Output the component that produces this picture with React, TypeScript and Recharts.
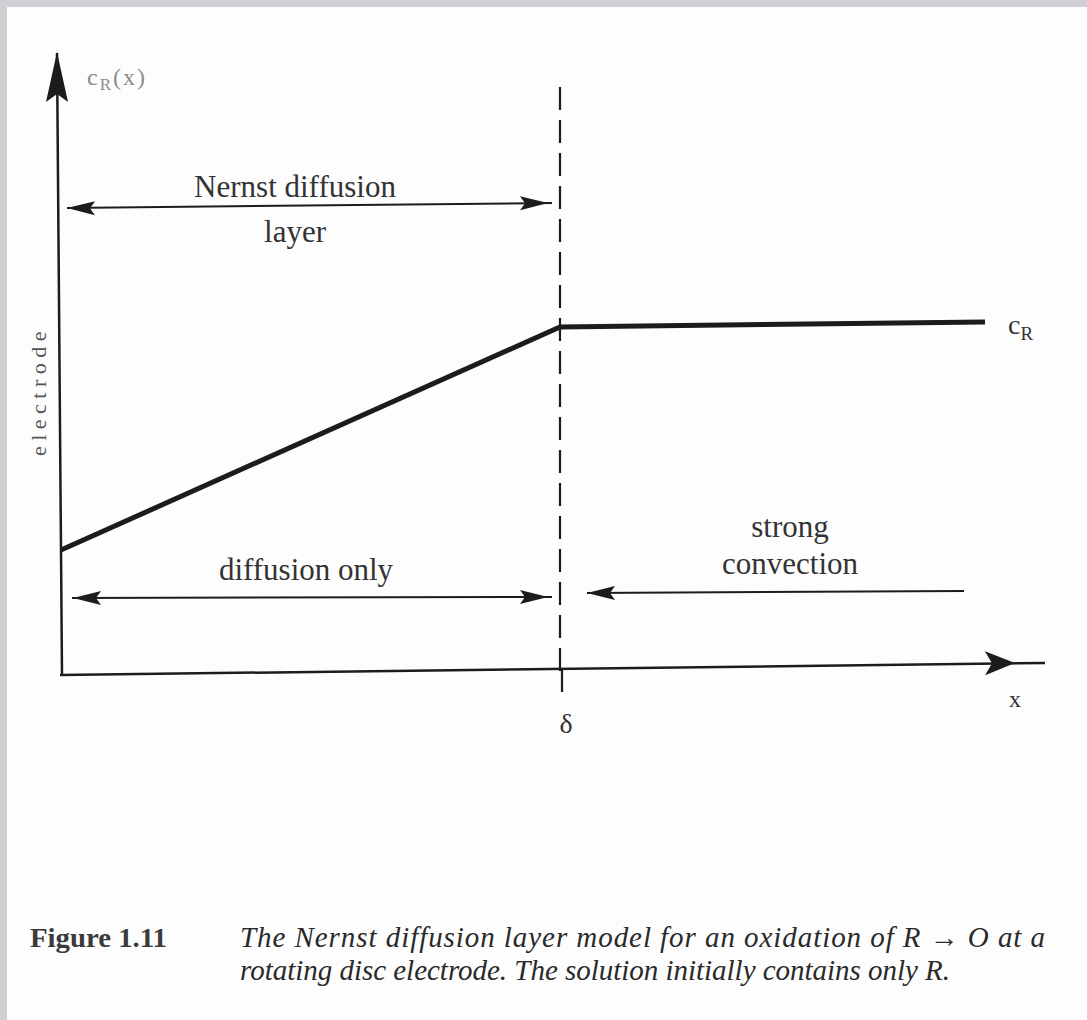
import React from 'react';
import { LineChart, Line, XAxis, YAxis, ReferenceLine, ReferenceDot } from 'recharts';

// concentration profile c_R(x): linear rise inside the Nernst layer, flat bulk value beyond δ
const profileX = [1, 500, 925];
const profileC = [125, 348, 353];

// position of δ (edge of the diffusion layer) on the x scale
const deltaX = 500;

const data = profileX.map((x, i) => ({ x, c: profileC[i] }));

const INK = '#1c1c1c';
const TEXT = '#333';
const SERIF = '"Liberation Serif", "Times New Roman", serif';

// filled arrow head drawn at the dot position; angle 0 = pointing right
const arrowHead = (angle: number, len: number, half: number, notch: number) => (p: any) => {
  const { cx, cy } = p;
  const a = (angle * Math.PI) / 180;
  const ux = Math.cos(a);
  const uy = Math.sin(a);
  const nx = -uy;
  const ny = ux;
  const bx = cx - len * ux;
  const by = cy - len * uy;
  const pts = [
    [cx, cy],
    [bx + half * nx, by + half * ny],
    [cx - (len - notch) * ux, cy - (len - notch) * uy],
    [bx - half * nx, by - half * ny],
  ];
  return <polygon points={pts.map((q) => q.join(',')).join(' ')} fill={INK} />;
};

const label = (content: React.ReactNode, opts: any = {}) => (p: any) => (
  <text
    x={p.cx}
    y={p.cy}
    textAnchor={opts.anchor || 'middle'}
    fontFamily={SERIF}
    fontSize={opts.size || 31}
    fill={opts.fill || TEXT}
    letterSpacing={opts.spacing || 0}
    transform={opts.rotate ? `rotate(${opts.rotate} ${p.cx} ${p.cy})` : undefined}
  >
    {content}
  </text>
);

export default function App() {
  return (
    <div style={{ position: 'relative', width: 1087, height: 1020, background: '#cfcfd4', overflow: 'hidden' }}>
      <style>{'body{margin:0}'}</style>
      <div style={{ position: 'absolute', left: 7, top: 7, right: 0, bottom: 0, background: '#fdfdfd' }} />
      <div style={{ position: 'absolute', left: 0, top: 0 }}>
        <LineChart width={1087} height={1020} data={data} margin={{ top: 0, right: 0, bottom: 0, left: 0 }}>
          <XAxis dataKey="x" type="number" domain={[-60, 1027]} hide />
          <YAxis type="number" domain={[-345, 675]} hide />

          {/* axes */}
          <ReferenceLine segment={[{ x: -3, y: 622 }, { x: 2, y: 0 }]} stroke={INK} strokeWidth={2.5} />
          <ReferenceLine segment={[{ x: 0, y: 0 }, { x: 985, y: 12 }]} stroke={INK} strokeWidth={2.5} />
          <ReferenceDot x={-3} y={623} r={0} shape={arrowHead(-90, 50, 11, 8)} />
          <ReferenceDot x={955} y={12} r={0} shape={arrowHead(-0.7, 30, 12, 7)} />

          {/* δ boundary */}
          <ReferenceLine
            segment={[{ x: deltaX, y: 588 }, { x: deltaX, y: 4 }]}
            stroke={INK}
            strokeWidth={2.2}
            strokeDasharray="23 10"
          />
          <ReferenceLine segment={[{ x: deltaX + 2, y: 6 }, { x: deltaX + 2, y: -17 }]} stroke={INK} strokeWidth={2.2} />

          {/* Nernst diffusion layer double arrow */}
          <ReferenceLine segment={[{ x: 7, y: 467 }, { x: 492, y: 472 }]} stroke={INK} strokeWidth={2} />
          <ReferenceDot x={7} y={467} r={0} shape={arrowHead(180.6, 28, 7, 5)} />
          <ReferenceDot x={488} y={472} r={0} shape={arrowHead(-0.6, 28, 7, 5)} />

          {/* diffusion only double arrow */}
          <ReferenceLine segment={[{ x: 12, y: 77 }, { x: 492, y: 78 }]} stroke={INK} strokeWidth={2} />
          <ReferenceDot x={13} y={77} r={0} shape={arrowHead(180, 28, 7, 5)} />
          <ReferenceDot x={488} y={78} r={0} shape={arrowHead(0, 28, 7, 5)} />

          {/* strong convection arrow */}
          <ReferenceLine segment={[{ x: 527, y: 82 }, { x: 904, y: 84 }]} stroke={INK} strokeWidth={2} />
          <ReferenceDot x={527} y={82} r={0} shape={arrowHead(180, 28, 7, 5)} />

          <Line
            dataKey="c"
            type="linear"
            stroke={INK}
            strokeWidth={5}
            dot={false}
            activeDot={false}
            isAnimationActive={false}
          />

          {/* texts */}
          <ReferenceDot
            x={27}
            y={590}
            r={0}
            shape={label(
              <>
                c<tspan fontSize={17} dy={5}>R</tspan>
                <tspan dy={-5}>(x)</tspan>
              </>,
              { anchor: 'start', size: 24, fill: '#8c8c8c', spacing: 2 }
            )}
          />
          <ReferenceDot x={235} y={478} r={0} shape={label('Nernst diffusion')} />
          <ReferenceDot x={235} y={433} r={0} shape={label('layer')} />
          <ReferenceDot
            x={948}
            y={341}
            r={0}
            shape={label(
              <>
                c<tspan fontSize={19} dy={6}>R</tspan>
              </>,
              { anchor: 'start', size: 28 }
            )}
          />
          <ReferenceDot
            x={-14}
            y={284}
            r={0}
            shape={label('electrode', { size: 22, fill: '#555', spacing: 5.5, rotate: -90 })}
          />
          <ReferenceDot x={246} y={95} r={0} shape={label('diffusion only')} />
          <ReferenceDot x={730} y={138} r={0} shape={label('strong')} />
          <ReferenceDot x={730} y={101} r={0} shape={label('convection')} />
          <ReferenceDot x={506} y={-58} r={0} shape={label('δ', { size: 28 })} />
          <ReferenceDot x={955} y={-32} r={0} shape={label('x', { size: 24 })} />
        </LineChart>
      </div>

      {/* figure caption */}
      <svg width={1087} height={1020} style={{ position: 'absolute', left: 0, top: 0, pointerEvents: 'none' }}>
        <text
          x={30}
          y={947}
          fontFamily={SERIF}
          fontSize={27}
          fontWeight="bold"
          fill="#3a3a3a"
          textLength={137}
          lengthAdjust="spacingAndGlyphs"
        >
          Figure 1.11
        </text>
        <text
          x={240}
          y={947}
          fontFamily={SERIF}
          fontSize={29}
          fontStyle="italic"
          fill="#2a2a2a"
          textLength={805}
          lengthAdjust="spacing"
        >
          The Nernst diffusion layer model for an oxidation of R → O at a
        </text>
        <text
          x={240}
          y={980}
          fontFamily={SERIF}
          fontSize={29}
          fontStyle="italic"
          fill="#2a2a2a"
          textLength={710}
          lengthAdjust="spacing"
        >
          rotating disc electrode. The solution initially contains only R.
        </text>
      </svg>
    </div>
  );
}
